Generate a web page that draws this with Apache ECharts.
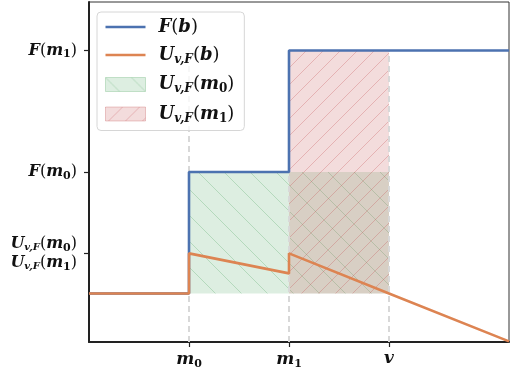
<!DOCTYPE html>
<html>
<head>
<meta charset="utf-8">
<script src="https://cdn.jsdelivr.net/npm/echarts@6/dist/echarts.min.js"></script>
<style>
  html, body { margin: 0; padding: 0; background: #fff; }
  #chart { width: 510px; height: 370px; }
</style>
</head>
<body>
<div id="chart"></div>
<script>
// positions on the b axis
var m0 = 1, m1 = 2, v = 3;
var xTicks = [m0, m1, v];
var xTickLabels = ['{i|m}{n|0}', '{i|m}{n|1}', '{i|v}'];

// F(b), step function
var fX = [0, 1, 1, 2, 2, 4.2];
var fVals = [0, 0, 1, 1, 2, 2];

// U_{v,F}(b)
var uX = [0, 1, 1, 2, 2, 3, 4.2];
var uVals = [0, 0, 0.33, 0.165, 0.33, 0, -0.395];

// shaded areas U(m0) and U(m1)
var a0X = [1, 3];
var a0Vals = [1, 1];
var a1X = [2, 3];
var a1Vals = [2, 2];

// y ticks
var yTicks = [0.33, 1, 2];
var yTickLabels = [
  '{i|U}{s|v,F}{p|(}{i|m}{n|0}{p|)}\n{i|U}{s|v,F}{p|(}{i|m}{n|1}{p|)}',
  '{i|F}{p|(}{i|m}{n|0}{p|)}',
  '{i|F}{p|(}{i|m}{n|1}{p|)}'
];

var serif = 'DejaVu Serif';
function richSet(size) {
  return {
    i: { fontFamily: serif, fontStyle: 'italic', fontWeight: 'bold', fontSize: size, color: '#111' },
    p: { fontFamily: serif, fontSize: size, color: '#111' },
    s: { fontFamily: serif, fontStyle: 'italic', fontWeight: 'bold', fontSize: Math.round(size * 0.64), color: '#111', padding: [Math.round(size / 2), 0, 0, 0] },
    n: { fontFamily: serif, fontWeight: 'bold', fontSize: Math.round(size * 0.66), color: '#111', padding: [Math.round(size / 2), 0, 0, 0] }
  };
}

function zip(xs, ys) {
  return xs.map(function (x, k) { return [x, ys[k]]; });
}

// hatch tiles, like matplotlib's '/' and '\\'
function hatch(rgb, size, forward) {
  var c = document.createElement('canvas');
  c.width = size; c.height = size;
  var ctx = c.getContext('2d');
  ctx.fillStyle = 'rgba(' + rgb + ',0.2)';
  ctx.fillRect(0, 0, size, size);
  ctx.strokeStyle = 'rgba(' + rgb + ',0.3)';
  ctx.lineWidth = 1;
  ctx.beginPath();
  if (forward) {
    ctx.moveTo(-1, size + 1); ctx.lineTo(size + 1, -1);
  } else {
    ctx.moveTo(-1, -1); ctx.lineTo(size + 1, size + 1);
  }
  ctx.stroke();
  return { image: c, repeat: 'repeat' };
}
var greenFill = hatch('85,168,104', 26, false);
var redFill = hatch('196,78,82', 17, true);

var names = {
  F: '{i|F}{p|(}{i|b}{p|)}',
  U: '{i|U}{s|v,F}{p|(}{i|b}{p|)}',
  A0: '{i|U}{s|v,F}{p|(}{i|m}{n|0}{p|)}',
  A1: '{i|U}{s|v,F}{p|(}{i|m}{n|1}{p|)}'
};
var lineIcon = 'path://M0,0H40V2.6H0Z';

var chart = echarts.init(document.getElementById('chart'));
var option = {
  animation: false,
  grid: { left: 89, right: 1, top: 2, bottom: 26, show: true, borderColor: '#333', borderWidth: 1 },
  legend: {
    orient: 'vertical', left: 97, top: 12,
    padding: [6, 10, 6, 8], itemGap: 10, itemWidth: 40, itemHeight: 14,
    backgroundColor: 'rgba(255,255,255,0.8)', borderColor: '#d6d6d6', borderWidth: 1, borderRadius: 4,
    data: [
      { name: 'F', icon: lineIcon, itemStyle: { color: '#4c72b0' } },
      { name: 'U', icon: lineIcon, itemStyle: { color: '#dd8452' } },
      { name: 'A0', icon: 'rect', itemStyle: { color: greenFill, borderColor: 'rgba(85,168,104,0.3)', borderWidth: 1 } },
      { name: 'A1', icon: 'rect', itemStyle: { color: redFill, borderColor: 'rgba(196,78,82,0.3)', borderWidth: 1 } }
    ],
    formatter: function (n) { return names[n]; },
    textStyle: { rich: richSet(18), padding: [0, 0, 0, 8] }
  },
  xAxis: {
    type: 'value', min: 0, max: 4.2,
    splitLine: { show: false },
    axisLine: { onZero: false, lineStyle: { color: '#222', width: 2 } },
    axisTick: { customValues: xTicks, length: 5, lineStyle: { color: '#222', width: 1.2 } },
    axisLabel: {
      customValues: xTicks, margin: 8,
      formatter: function (val) { return xTickLabels[xTicks.indexOf(val)]; },
      rich: richSet(17)
    }
  },
  yAxis: {
    type: 'value', min: -0.4, max: 2.4,
    splitLine: { show: false },
    axisLine: { show: true, onZero: false, lineStyle: { color: '#222', width: 2 } },
    axisTick: { show: true, customValues: yTicks, length: 5, lineStyle: { color: '#222', width: 1.2 } },
    axisLabel: {
      customValues: yTicks, margin: 12,
      formatter: function (val) { return yTickLabels[yTicks.indexOf(val)]; },
      rich: richSet(16), lineHeight: 19
    }
  },
  series: [
    {
      name: 'A0', type: 'line', data: zip(a0X, a0Vals), symbol: 'none',
      lineStyle: { width: 0 }, itemStyle: { color: greenFill },
      areaStyle: { color: greenFill, opacity: 1 }, z: 1,
      markLine: {
        silent: true, symbol: 'none', label: { show: false }, z: 2,
        lineStyle: { color: '#d8d8d8', width: 2, type: [6, 4] },
        data: xTicks.map(function (x) { return [{ coord: [x, -0.4] }, { coord: [x, 2] }]; })
      }
    },
    {
      name: 'A1', type: 'line', data: zip(a1X, a1Vals), symbol: 'none',
      lineStyle: { width: 0 }, itemStyle: { color: redFill },
      areaStyle: { color: redFill, opacity: 1 }, z: 1
    },
    {
      name: 'F', type: 'line', data: zip(fX, fVals), symbol: 'none',
      lineStyle: { color: '#4c72b0', width: 2.6 }, itemStyle: { color: '#4c72b0' }, z: 3
    },
    {
      name: 'U', type: 'line', data: zip(uX, uVals), symbol: 'none',
      lineStyle: { color: '#dd8452', width: 2.6 }, itemStyle: { color: '#dd8452' }, z: 4
    }
  ]
};
chart.setOption(option);
</script>
</body>
</html>
